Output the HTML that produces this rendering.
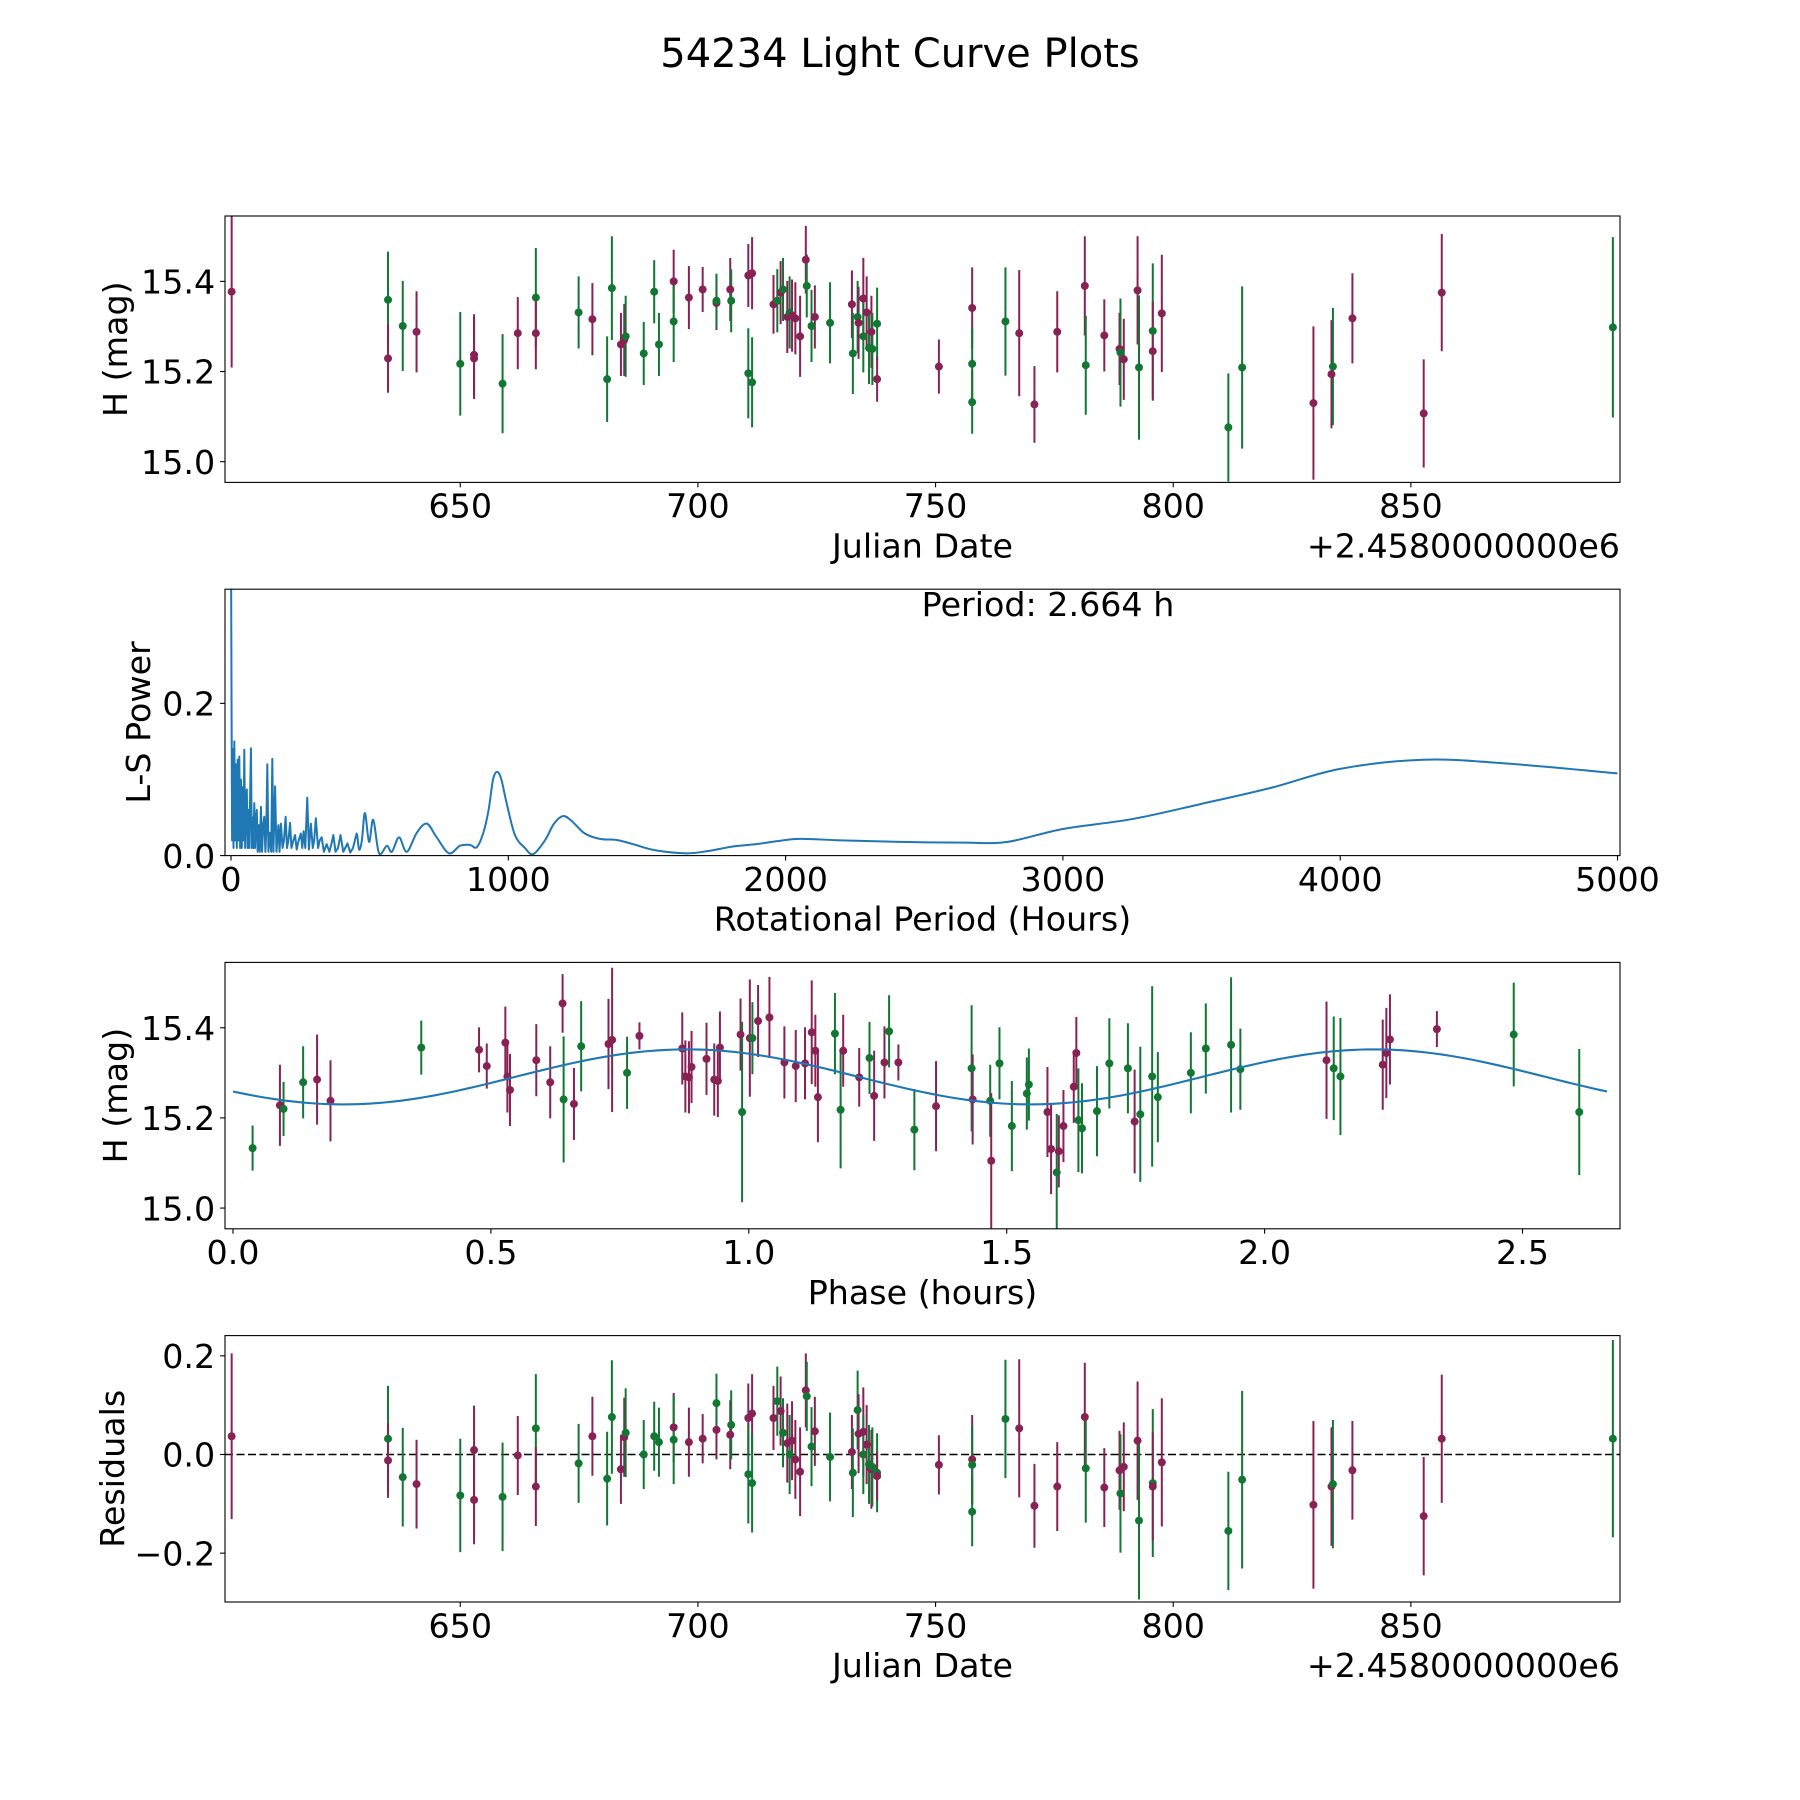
<!DOCTYPE html>
<html>
<head>
<meta charset="utf-8">
<style>
html,body{margin:0;padding:0;background:#fff;}
svg{display:block;font-family:"DejaVu Sans","Liberation Sans",sans-serif;}
</style>
</head>
<body>
<svg id="fig" width="1800" height="1800" viewBox="0 0 1800 1800" xmlns="http://www.w3.org/2000/svg">
<rect width="1800" height="1800" fill="#fff"/>
<text x="900" y="67" font-size="40" text-anchor="middle" fill="#000">54234 Light Curve Plots</text>
</svg>
<script>
// ---- Panel 1 / 4 data (Julian date offset, magnitude, error, residual, filter) ----
const jd = [601.9,634.8,634.8,637.9,640.8,650.0,652.9,652.9,658.9,662.1,665.9,665.9,674.9,677.8,680.9,681.9,683.8,684.5,684.8,688.6,690.8,691.8,694.9,694.9,698.1,701.0,703.9,703.9,706.8,707.0,710.6,711.4,710.6,711.4,715.9,716.7,717.4,717.9,718.8,719.3,719.8,720.5,721.5,722.7,722.9,723.9,724.6,727.8,732.4,732.6,733.6,733.8,734.8,734.8,735.5,736.0,736.5,736.7,737.7,737.7,750.7,757.7,757.7,757.7,764.7,767.6,770.8,775.6,781.4,781.6,785.5,788.7,788.9,789.6,792.5,792.8,795.7,795.7,797.6,811.6,814.5,829.5,833.3,833.6,837.7,852.7,856.5,892.5];
const hMag = [15.377,15.359,15.229,15.301,15.288,15.217,15.237,15.229,15.173,15.285,15.364,15.285,15.331,15.316,15.183,15.385,15.26,15.27,15.278,15.24,15.377,15.26,15.40,15.311,15.364,15.382,15.352,15.357,15.382,15.357,15.413,15.418,15.196,15.176,15.349,15.357,15.375,15.382,15.321,15.331,15.324,15.318,15.278,15.448,15.39,15.301,15.321,15.308,15.349,15.24,15.321,15.308,15.362,15.278,15.331,15.252,15.288,15.25,15.306,15.183,15.211,15.341,15.217,15.132,15.311,15.285,15.127,15.288,15.39,15.214,15.28,15.25,15.242,15.227,15.38,15.209,15.29,15.245,15.329,15.076,15.209,15.13,15.194,15.211,15.318,15.107,15.375,15.298];
const hErr = [0.168,0.107,0.076,0.10,0.09,0.115,0.09,0.09,0.11,0.08,0.11,0.08,0.08,0.08,0.095,0.115,0.07,0.08,0.09,0.07,0.07,0.07,0.07,0.09,0.07,0.05,0.06,0.06,0.07,0.07,0.07,0.08,0.1,0.1,0.065,0.07,0.07,0.07,0.08,0.08,0.08,0.08,0.09,0.075,0.07,0.08,0.07,0.09,0.075,0.09,0.08,0.08,0.09,0.08,0.08,0.08,0.08,0.08,0.08,0.05,0.06,0.09,0.08,0.07,0.12,0.14,0.085,0.09,0.11,0.11,0.08,0.08,0.12,0.09,0.12,0.16,0.15,0.11,0.13,0.12,0.18,0.17,0.12,0.13,0.1,0.12,0.13,0.2];
const resid = [0.037,0.032,-0.012,-0.046,-0.06,-0.083,0.009,-0.092,-0.086,-0.002,0.053,-0.065,-0.018,0.037,-0.049,0.076,-0.03,0.035,0.044,0.0,0.037,0.025,0.055,0.03,0.025,0.032,0.05,0.104,0.04,0.06,0.074,0.083,-0.04,-0.058,0.074,0.108,0.088,0.044,0.023,0.0,0.028,-0.01,-0.035,0.13,0.118,0.016,0.047,-0.005,0.005,-0.037,0.09,0.042,0.046,0.0,0.02,-0.02,-0.03,-0.025,-0.037,-0.044,-0.021,-0.01,-0.021,-0.116,0.072,0.053,-0.104,-0.065,0.076,-0.028,-0.067,-0.032,-0.079,-0.025,0.028,-0.134,-0.058,-0.065,-0.016,-0.155,-0.051,-0.102,-0.065,-0.06,-0.032,-0.125,0.032,0.032];
const filt = ["p","g","p","g","p","g","p","p","g","p","g","p","g","p","g","g","p","p","g","g","g","g","p","g","p","p","p","g","p","g","p","p","g","g","p","g","p","g","p","g","p","p","p","p","g","g","p","g","p","g","g","p","p","g","p","g","p","g","g","p","p","p","g","g","g","p","p","p","p","g","p","p","g","p","p","g","g","p","p","g","g","p","p","g","p","p","p","g"];

// ---- Panel 3 data (phase-folded) ----
const phX = [0.038,0.091,0.098,0.136,0.163,0.189,0.365,0.477,0.492,0.528,0.532,0.537,0.588,0.615,0.639,0.641,0.661,0.675,0.728,0.735,0.764,0.788,0.871,0.877,0.884,0.889,0.918,0.933,0.94,0.944,0.984,0.987,1.002,1.007,1.018,1.04,1.069,1.091,1.109,1.122,1.129,1.134,1.167,1.178,1.183,1.214,1.234,1.243,1.263,1.272,1.29,1.321,1.363,1.432,1.434,1.468,1.47,1.486,1.51,1.539,1.543,1.579,1.586,1.597,1.601,1.61,1.63,1.635,1.639,1.646,1.675,1.699,1.735,1.748,1.759,1.782,1.793,1.857,1.886,1.935,1.953,2.12,2.134,2.147,2.229,2.236,2.243,2.334,2.483,2.61];
const phH = [15.133,15.228,15.22,15.279,15.285,15.238,15.356,15.351,15.315,15.367,15.292,15.262,15.328,15.279,15.454,15.241,15.231,15.359,15.364,15.373,15.3,15.382,15.354,15.292,15.29,15.313,15.331,15.285,15.282,15.356,15.385,15.213,15.377,15.377,15.415,15.423,15.323,15.315,15.321,15.39,15.349,15.246,15.387,15.218,15.349,15.29,15.333,15.249,15.323,15.392,15.323,15.174,15.226,15.31,15.241,15.238,15.105,15.321,15.182,15.254,15.274,15.213,15.131,15.079,15.126,15.182,15.269,15.344,15.195,15.177,15.215,15.321,15.31,15.192,15.208,15.292,15.246,15.3,15.354,15.362,15.308,15.328,15.31,15.292,15.318,15.344,15.374,15.397,15.385,15.213];
const phErr = [0.05,0.09,0.06,0.08,0.1,0.09,0.06,0.05,0.05,0.08,0.08,0.08,0.08,0.08,0.065,0.14,0.08,0.1,0.1,0.16,0.08,0.03,0.08,0.08,0.08,0.08,0.08,0.08,0.08,0.08,0.08,0.2,0.13,0.08,0.08,0.09,0.08,0.08,0.08,0.115,0.08,0.1,0.09,0.13,0.08,0.065,0.08,0.1,0.08,0.08,0.04,0.09,0.1,0.14,0.1,0.08,0.15,0.08,0.1,0.08,0.08,0.1,0.1,0.13,0.08,0.08,0.08,0.08,0.115,0.1,0.1,0.1,0.1,0.115,0.15,0.2,0.1,0.09,0.1,0.15,0.09,0.13,0.115,0.13,0.1,0.1,0.1,0.04,0.115,0.14];
const phFilt = ["g","p","g","g","p","p","g","p","p","p","p","p","p","p","p","g","p","g","p","p","g","p","p","p","p","p","p","p","p","p","p","g","p","g","p","p","p","p","p","p","p","p","g","g","p","p","g","p","p","g","p","g","p","g","p","g","p","g","g","g","g","p","p","g","p","p","p","p","g","g","g","g","g","p","g","g","g","g","g","g","g","p","g","g","p","p","p","p","g","g"];

// ---- Fit model (double-peaked sinusoid) ----
const fitMean = [15.291];
const fitAmp = [0.061];
const fitPeakPhase = [0.88];
const fitHalfPeriod = [1.332];
const rotPeriod = [2.664];

// ---- Panel 2 periodogram ----
const perPeriod = [0.5,2,4,7,9,12,15,18,21,24,27,30,33,36,39,42,45,48,51,54,57,60,63,66,69,72,75,78,81,84,87,90,93,96,100,104,108,112,116,120,124,127,131,135,140,145,149,153,159,164,171,175,180,186,191,197,202,207,213,218,225,231,237,244,252,257,262,268,275,281,288,295,300,306,314,320,327,335,345,355,362,369,377,386,395,405,412,420,430,440,453,462,472,483,498,513,534,562,580,606,634,670,706,740,786,826,862,886,910,929,945,960,975,994,1024,1060,1090,1132,1165,1198,1230,1276,1330,1391,1450,1530,1643,1720,1810,1894,1970,2052,2200,2412,2650,2800,3000,3250,3500,3750,4000,4300,4600,5000];
const perPower = [0.36,0.2,0.02,0.14,0.01,0.15,0.02,0.12,0.01,0.126,0.02,0.13,0.01,0.1,0.01,0.09,0.02,0.139,0.01,0.07,0.087,0.01,0.06,0.01,0.08,0.141,0.01,0.05,0.01,0.069,0.01,0.045,0.06,0.005,0.04,0.005,0.064,0.005,0.04,0.051,0.005,0.03,0.12,0.005,0.03,0.005,0.127,0.005,0.091,0.005,0.04,0.005,0.042,0.01,0.02,0.051,0.01,0.02,0.043,0.01,0.02,0.027,0.008,0.02,0.029,0.01,0.032,0.01,0.076,0.008,0.042,0.01,0.02,0.049,0.01,0.02,0.024,0.005,0.015,0.005,0.015,0.027,0.005,0.01,0.027,0.005,0.01,0.016,0.004,0.01,0.029,0.008,0.02,0.056,0.018,0.047,0.003,0.013,0.005,0.024,0.005,0.03,0.042,0.025,0.003,0.013,0.014,0.011,0.03,0.06,0.1,0.11,0.1,0.069,0.027,0.01,0.002,0.02,0.042,0.052,0.045,0.029,0.022,0.0205,0.015,0.007,0.003,0.006,0.012,0.015,0.019,0.022,0.02,0.018,0.017,0.018,0.035,0.048,0.068,0.089,0.114,0.126,0.121,0.108];

// ---- tick labels ----
const jdTicks = [650,700,750,800,850];
const magTicks = [15.0,15.2,15.4];
const perTicks = [0,1000,2000,3000,4000,5000];
const powTicks = [0.0,0.2];
const phTicks = [0.0,0.5,1.0,1.5,2.0,2.5];
const resTicks = [-0.2,0.0,0.2];

const NS = "http://www.w3.org/2000/svg";
const svg = document.getElementById("fig");
const COL = {p:"#882255", g:"#117733"};
const FS = 33.3;

function mk(tag, attrs, parent){
  const e = document.createElementNS(NS, tag);
  for (const k in attrs) e.setAttribute(k, attrs[k]);
  (parent || svg).appendChild(e);
  return e;
}
function lin(d0,d1,p0,p1){ return v => p0 + (v-d0)*(p1-p0)/(d1-d0); }
function fmt(v,dec){ const s = v.toFixed(dec); return v < 0 ? "\u2212" + s.slice(1) : s; }

const X0 = 225, X1 = 1620;
const panels = [
  {name:"light-curve-panel", y0:216, y1:482.4},
  {name:"periodogram-panel", y0:589.2, y1:855.6},
  {name:"phase-panel", y0:962.4, y1:1228.8},
  {name:"residuals-panel", y0:1335.6, y1:1602}
];

function axesFrame(p, xs, ys, xt, xdec, yt, ydec, xlabel, ylabel, ylabelX){
  const g = mk("g", {});
  
  
  xt.forEach(v => {
    const x = xs(v);
    const t = mk("line", {x1:x, x2:x, y1:p.y1, y2:p.y1+4.9, stroke:"#000", "stroke-width":1.1}, g);
    
    
    const l = mk("text", {x:x, y:p.y1+35.3, "font-size":FS, "text-anchor":"middle"}, g);
    l.textContent = fmt(v, xdec);
    
    
  });
  yt.forEach(v => {
    const y = ys(v);
    const t = mk("line", {x1:X0-4.9, x2:X0, y1:y, y2:y, stroke:"#000", "stroke-width":1.1}, g);
    
    
    const l = mk("text", {x:X0-9.8, y:y+12.2, "font-size":FS, "text-anchor":"end"}, g);
    l.textContent = fmt(v, ydec);
    
    
  });
  const xl = mk("text", {x:(X0+X1)/2, y:p.y1+75, "font-size":FS, "text-anchor":"middle"}, g);
  xl.textContent = xlabel;
  
  
  const cy = (p.y0+p.y1)/2;
  const yl = mk("text", {x:ylabelX, y:cy, "font-size":FS, "text-anchor":"middle", transform:"rotate(-90 "+ylabelX+" "+cy+")"}, g);
  yl.textContent = ylabel;
  
  
  return g;
}
function frame(p, g){
  const r = mk("rect", {x:X0, y:p.y0, width:X1-X0, height:p.y1-p.y0, fill:"none", stroke:"#000", "stroke-width":1.1}, g);
  
  
}
function clip(id, p){
  const c = mk("clipPath", {id:id});
  mk("rect", {x:X0, y:p.y0, width:X1-X0, height:p.y1-p.y0}, c);
}
function errPoints(g, xs, ys, xv, yv, ev, fv){
  for (let i=0;i<xv.length;i++){
    const x = xs(xv[i]);
    const e = mk("line", {x1:x, x2:x, y1:ys(yv[i]-ev[i]), y2:ys(yv[i]+ev[i]), stroke:COL[fv[i]], "stroke-width":2}, g);
    
    
  }
  for (let i=0;i<xv.length;i++){
    const c = mk("circle", {cx:xs(xv[i]), cy:ys(yv[i]), r:4, fill:COL[fv[i]]}, g);
    
    
  }
}

// ---- Panel 1 ----
(function(){
  const p = panels[0];
  const xs = lin(600.5, 894, X0, X1), ys = lin(14.954, 15.545, p.y1, p.y0);
  const g = axesFrame(p, xs, ys, jdTicks, 0, magTicks, 1, "Julian Date", "H (mag)", 127);
  clip("c1", p);
  const d = mk("g", {"clip-path":"url(#c1)"}, g);
  
  
  errPoints(d, xs, ys, jd, hMag, hErr, filt);
  frame(p, g);
  const o = mk("text", {x:X1, y:p.y1+75, "font-size":FS, "text-anchor":"end"}, g);
  o.textContent = "+2.4580000000e6";
  
  
})();

// ---- Panel 2 ----
(function(){
  const p = panels[1];
  const xs = lin(-21.6, 5009, X0, X1), ys = lin(0, 0.35, p.y1, p.y0);
  const g = axesFrame(p, xs, ys, perTicks, 0, powTicks, 1, "Rotational Period (Hours)", "L-S Power", 150);
  clip("c2", p);
  const P = perPeriod.map((v,i)=>[xs(v), ys(perPower[i])]);
  let dstr = "M" + P[0][0].toFixed(2) + " " + P[0][1].toFixed(2);
  for (let i=1;i<P.length;i++){
    if (perPeriod[i] <= 460){
      dstr += "L" + P[i][0].toFixed(2) + " " + P[i][1].toFixed(2);
    } else {
      const p0 = P[i-2] || P[i-1], p1 = P[i-1], p2 = P[i], p3 = P[i+1] || P[i];
      const c1x = p1[0] + (p2[0]-p0[0])/6, c1y = p1[1] + (p2[1]-p0[1])/6;
      const c2x = p2[0] - (p3[0]-p1[0])/6, c2y = p2[1] - (p3[1]-p1[1])/6;
      dstr += "C" + c1x.toFixed(2) + " " + c1y.toFixed(2) + " " + c2x.toFixed(2) + " " + c2y.toFixed(2) + " " + p2[0].toFixed(2) + " " + p2[1].toFixed(2);
    }
  }
  const l = mk("path", {d:dstr, fill:"none", stroke:"#1f77b4", "stroke-width":2.0, "stroke-linejoin":"round", "clip-path":"url(#c2)"}, g);
  
  
  frame(p, g);
  const t = mk("text", {x:1048, y:616, "font-size":FS, "text-anchor":"middle"}, g);
  t.textContent = "Period: " + rotPeriod[0].toFixed(3) + " h";
  
  
})();

// ---- Panel 3 ----
(function(){
  const p = panels[2];
  const xs = lin(-0.0155, 2.689, X0, X1), ys = lin(14.954, 15.545, p.y1, p.y0);
  const g = axesFrame(p, xs, ys, phTicks, 1, magTicks, 1, "Phase (hours)", "H (mag)", 127);
  clip("c3", p);
  const d = mk("g", {"clip-path":"url(#c3)"}, g);
  
  
  errPoints(d, xs, ys, phX, phH, phErr, phFilt);
  let s = "";
  for (let k=0;k<=200;k++){
    const ph = rotPeriod[0]*k/200;
    const h = fitMean[0] + fitAmp[0]*Math.cos(2*Math.PI*(ph-fitPeakPhase[0])/fitHalfPeriod[0]);
    s += (k? "L":"M") + xs(ph).toFixed(2) + " " + ys(h).toFixed(2);
  }
  const f = mk("path", {d:s, fill:"none", stroke:"#1f77b4", "stroke-width":2.1}, g);
  
  
  frame(p, g);
})();

// ---- Panel 4 ----
(function(){
  const p = panels[3];
  const xs = lin(600.5, 894, X0, X1), ys = lin(-0.299, 0.241, p.y1, p.y0);
  const g = axesFrame(p, xs, ys, jdTicks, 0, resTicks, 1, "Julian Date", "Residuals", 124);
  const z = mk("line", {x1:X0, x2:X1, y1:ys(0), y2:ys(0), stroke:"#000", "stroke-width":1.6, "stroke-dasharray":"8,3.5"}, g);
  
  
  clip("c4", p);
  const d = mk("g", {"clip-path":"url(#c4)"}, g);
  
  
  errPoints(d, xs, ys, jd, resid, hErr, filt);
  frame(p, g);
  const o = mk("text", {x:X1, y:p.y1+75, "font-size":FS, "text-anchor":"end"}, g);
  o.textContent = "+2.4580000000e6";
  
  
})();
</script>
</body>
</html>
